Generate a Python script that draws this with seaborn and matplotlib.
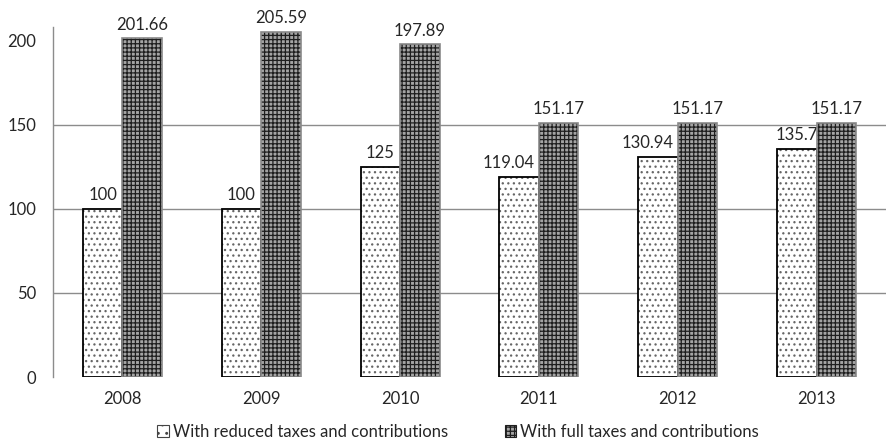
import matplotlib
matplotlib.use("Agg")
import matplotlib.pyplot as plt
from matplotlib.patches import Patch, Rectangle
import seaborn as sns
import pandas as pd
import numpy as np

years = ["2008", "2009", "2010", "2011", "2012", "2013"]
reduced = [100, 100, 125, 119.04, 130.94, 135.7]
full = [201.66, 205.59, 197.89, 151.17, 151.17, 151.17]
series_names = ["With reduced taxes and contributions", "With full taxes and contributions"]
yticks = [0, 50, 100, 150, 200]

df = pd.DataFrame({
    "year": years * 2,
    "value": reduced + full,
    "series": [series_names[0]] * len(years) + [series_names[1]] * len(years),
})

sns.set_theme(style="white")
plt.rcParams["font.family"] = ["Lato", "DejaVu Sans"]
plt.rcParams["hatch.linewidth"] = 0.9

TEXT = "#262626"
GRID = "#8c8c8c"
FS = 12

fig = plt.figure(figsize=(8.86, 4.48), dpi=100)
ax = fig.add_axes([53 / 886, 1 - 377 / 448, (886 - 53) / 886, (377 - 27) / 448])

sns.barplot(data=df, x="year", y="value", hue="series", order=years,
            hue_order=series_names, palette=["white", "#9a9a9a"],
            width=0.57, gap=0, legend=False, ax=ax, zorder=3, saturation=1)

bars = ax.patches
n = len(years)
reduced_bars = list(bars[:n])
full_bars = list(bars[n:2 * n])

for p in reduced_bars:
    p.set_facecolor("white")
    p.set_edgecolor("#666666")
    p.set_linewidth(0)
    p.set_hatch("...")
    p.set_zorder(3)
    ax.add_patch(Rectangle(p.get_xy(), p.get_width(), p.get_height(),
                           fill=False, edgecolor="black", lw=1.3, zorder=3.5))
for p in full_bars:
    p.set_facecolor("#a4a4a4")
    p.set_edgecolor("#1e1e1e")
    p.set_linewidth(0)
    p.set_hatch("++++")
    p.set_zorder(5)
    ax.add_patch(Rectangle(p.get_xy(), p.get_width(), p.get_height(),
                           fill=False, edgecolor="#8a8a8a", lw=1.2, zorder=6))

# value labels; the 2011 and 2012 labels sit a little to the left of their bars
reduced_label_dx = [0, 0, 0, -11, -10, 0]
for p, v, dx in zip(reduced_bars, reduced, reduced_label_dx):
    ax.annotate(f"{v:g}", (p.get_x() + p.get_width() / 2, v), xytext=(dx * 0.72, 4),
                textcoords="offset points", ha="center", va="bottom",
                fontsize=FS, color=TEXT, zorder=4)
for p, v in zip(full_bars, full):
    ax.annotate(f"{v:g}", (p.get_x() + p.get_width() / 2, v), xytext=(0, 4),
                textcoords="offset points", ha="center", va="bottom",
                fontsize=FS, color=TEXT, zorder=7)

ax.set_xlim(-0.5, (886 - 53) / 140.2 - 0.5)
ax.set_ylim(0, 208.3)
ax.set_yticks(yticks)
ax.set_yticklabels([str(t) for t in yticks], fontsize=FS, color=TEXT)
for g in [50, 100, 150]:
    ax.axhline(g, color=GRID, lw=1, zorder=1)

ax.set_xticks(range(n))
ax.set_xticklabels(years, fontsize=FS, color=TEXT)
ax.set_xticks(np.arange(n) + 0.5, minor=True)
ax.tick_params(axis="x", which="major", length=0, pad=10)
ax.tick_params(axis="x", which="minor", length=4, color=GRID, width=1, direction="out")
ax.tick_params(axis="y", length=0, pad=12)
ax.set_xlabel("")
ax.set_ylabel("")
for s in ["top", "right", "bottom"]:
    ax.spines[s].set_visible(False)
ax.spines["left"].set_color(GRID)
ax.spines["left"].set_linewidth(1)

# legend below the axis
handles = [
    Patch(facecolor="white", edgecolor="#444444", hatch="..", lw=0.8),
    Patch(facecolor="#a4a4a4", edgecolor="#1e1e1e", hatch="++++", lw=0.8),
]
fig.legend(handles, series_names, loc="center", bbox_to_anchor=(458 / 886, 1 - 432 / 448),
           ncol=2, frameon=False, fontsize=FS, handlelength=0.7, handleheight=0.7,
           handletextpad=0.25, columnspacing=3.4, labelcolor=TEXT)

fig.savefig("out.png", dpi=100)
